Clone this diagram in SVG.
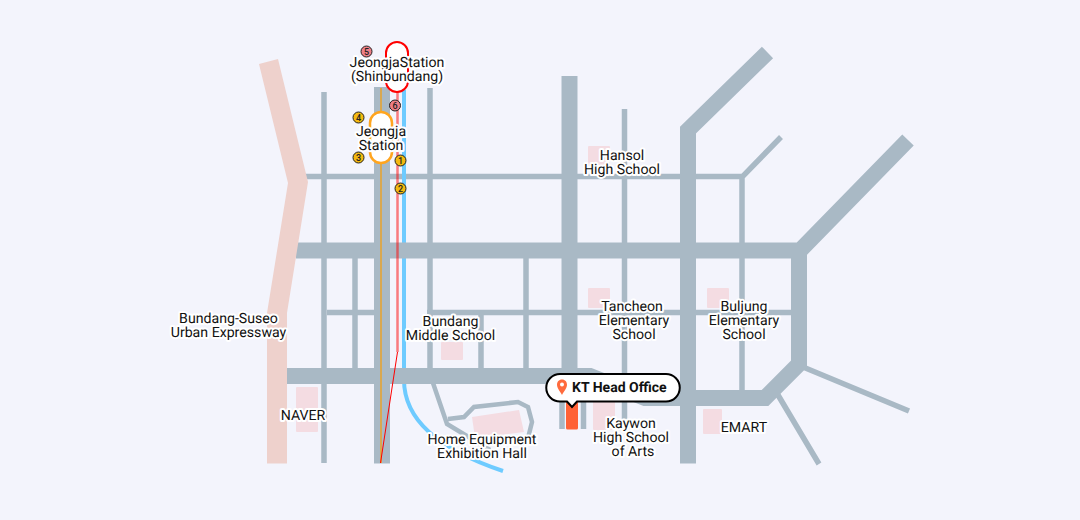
<svg xmlns="http://www.w3.org/2000/svg" width="1080" height="520" viewBox="0 0 1080 520">
<style>
.road{fill:none;stroke:#a9b9c5;stroke-linejoin:miter}
.w5{stroke-width:5.5}
.w16{stroke-width:16}
.bld{fill:#f4dce2}
.lbl{font-family:Roboto,"Liberation Sans",sans-serif;font-size:14.150px;fill:#111;text-anchor:middle;stroke:#fff;stroke-width:4px;paint-order:stroke;stroke-linejoin:round;text-rendering:geometricPrecision}
.num{font-family:Roboto,"Liberation Sans",sans-serif;font-size:9px;font-weight:500;fill:#222;text-anchor:middle}
.st4{fill:#f4b90f;stroke:#222;stroke-width:1}
.st5{fill:#ef7f86;stroke:#222;stroke-width:1}
</style>
<rect width="1080" height="520" fill="#f3f4fc"/>
<g id="connectors">
<path class="road w5" d="M324 92V463M305 176.500H742M327 312.500H375M427 312.500H791M355 258V368M430 88V368M481 312V368M526 258V368M624.500 109V420M742 390V177L781 137M803 367L909 411M778 395L819 464M562 400V429M583.500 400V429"/>
<path d="M404 90V380C404 420 440 450 503 471" fill="none" stroke="#6ecbff" stroke-width="4"/>
<path class="road w16" d="M382 87V463.500M569.500 76V395M688 463.500V130L767.500 52.500M296 250.500H800L908 140M799 250V364L765 398H645L590 376H287"/>
<path class="road" stroke-width="4.500" d="M433 383L447 424L490 450M448 419L464 417L474 407L518 402L528 407L532 422L528 438"/>
<polygon points="259,64 278,59 308,182 287,313 287,463.500 267,463.500 267,313 288,183" fill="#eed1cc"/>
<path d="M381 88V463" stroke="#d9a850" stroke-width="2" fill="none"/>
<path d="M397.500 92V352" stroke="#f00" stroke-opacity=".5" stroke-width="2.500" fill="none"/>
<path d="M397.500 352L380.500 463" stroke="#f00" stroke-width="1" fill="none"/>
</g>
<g id="naver"><rect class="bld" x="296" y="387" width="22" height="45" rx="1"/><text class="lbl" x="303" y="420">NAVER</text></g>
<g id="expressway-label"><text class="lbl" x="228.500" y="323">Bundang-Suseo</text><text class="lbl" x="228.500" y="337">Urban Expressway</text></g>
<g id="bundang-middle"><rect class="bld" x="441" y="342" width="22" height="18" rx="1"/><text class="lbl" x="450.500" y="326">Bundang</text><text class="lbl" x="450.500" y="340">Middle School</text></g>
<g id="home-equipment"><polygon class="bld" points="472,417 519,410 524,432 475,438"/><text class="lbl" x="482" y="444">Home Equipment</text><text class="lbl" x="482" y="458">Exhibition Hall</text></g>
<g id="hansol"><rect class="bld" x="588" y="146" width="22" height="20" rx="1"/><text class="lbl" x="622" y="160">Hansol</text><text class="lbl" x="622" y="174">High School</text></g>
<g id="tancheon"><rect class="bld" x="588" y="288" width="22" height="20" rx="1"/><text class="lbl" x="632" y="311">Tancheon</text><text class="lbl" x="634" y="325">Elementary</text><text class="lbl" x="634" y="339">School</text></g>
<g id="buljung"><rect class="bld" x="707" y="288" width="22" height="20" rx="1"/><text class="lbl" x="744" y="311">Buljung</text><text class="lbl" x="744" y="325">Elementary</text><text class="lbl" x="744" y="339">School</text></g>
<g id="emart"><rect class="bld" x="703" y="409" width="19" height="25" rx="1"/><text class="lbl" x="744" y="432">EMART</text></g>
<g id="kaywon"><rect class="bld" x="593" y="400" width="22" height="30" rx="1"/><text class="lbl" x="631" y="428">Kaywon</text><text class="lbl" x="631" y="442">High School</text><text class="lbl" x="633" y="456">of Arts</text></g>
<g id="jeongja-shinbundang"><rect x="386" y="42" width="22" height="50" rx="11" fill="#fff" stroke="#f00" stroke-width="2"/><text class="lbl" x="397" y="67">JeongjaStation</text><text class="lbl" x="397" y="81">(Shinbundang)</text></g>
<g id="jeongja"><rect x="370" y="112" width="22" height="51" rx="11" fill="#fff" stroke="#ffa51f" stroke-width="2.500"/><text class="lbl" x="381" y="136">Jeongja</text><text class="lbl" x="381" y="150">Station</text></g>
<g id="exit-5"><circle class="st5" cx="366.500" cy="51.500" r="5.500"/><text class="num" x="366.500" y="54.700">5</text></g>
<g id="exit-6"><circle class="st5" cx="395" cy="105.500" r="5.500"/><text class="num" x="395" y="108.700">6</text></g>
<g id="exit-4"><circle class="st4" cx="358.500" cy="117.500" r="5.500"/><text class="num" x="358.500" y="120.700">4</text></g>
<g id="exit-3"><circle class="st4" cx="358.500" cy="157.500" r="5.500"/><text class="num" x="358.500" y="160.700">3</text></g>
<g id="exit-1"><circle class="st4" cx="400.500" cy="160.500" r="5.500"/><text class="num" x="400.500" y="163.700">1</text></g>
<g id="exit-2"><circle class="st4" cx="400.500" cy="188.500" r="5.500"/><text class="num" x="400.500" y="191.700">2</text></g>
<g id="kt-head-office">
<rect x="566" y="400" width="12" height="29.500" rx="1.500" fill="#ff6236"/>
<path d="M560 374H666A13.750 13.750 0 0 1 666 401.500H577L572 407L567 401.500H560A13.750 13.750 0 0 1 560 374Z" fill="#fff" stroke="#000" stroke-width="2"/>
<path d="M562 379.500C558.800 379.500 557 382 557 384.700C557 388 560 391 562 395C564 391 567 388 567 384.700C567 382 565.200 379.500 562 379.500Z" fill="#ff6b3d"/>
<circle cx="562" cy="384.500" r="2" fill="#fff"/>
<text x="572" y="392" font-family="Roboto,'Liberation Sans',sans-serif" font-size="14" font-weight="700" fill="#111" text-rendering="geometricPrecision">KT Head Office</text>
</g>
</svg>
